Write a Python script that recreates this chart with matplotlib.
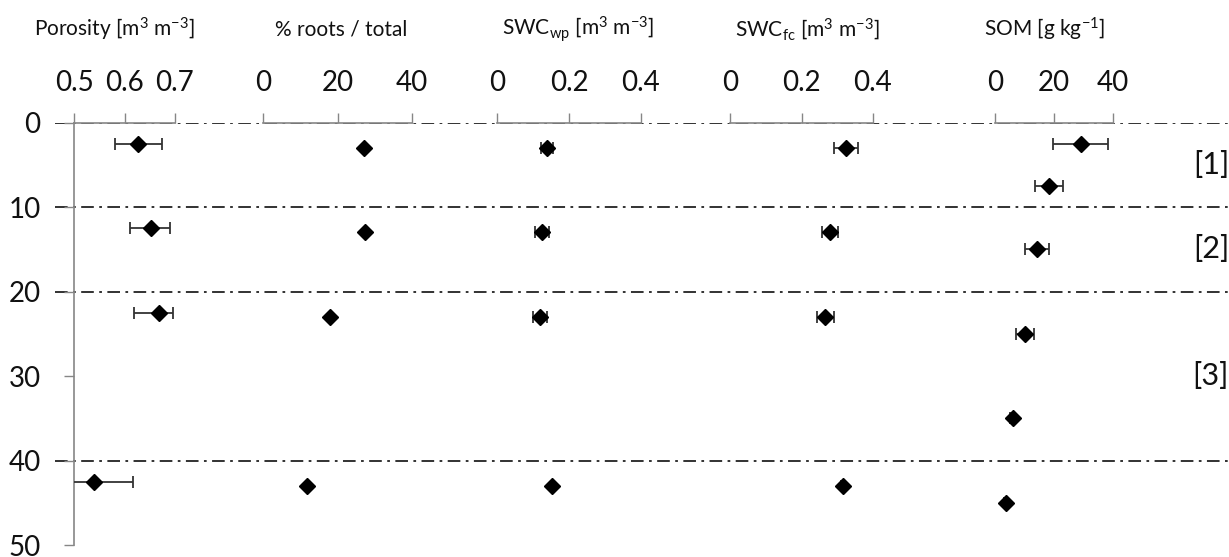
import matplotlib.pyplot as plt
from matplotlib.transforms import blended_transform_factory

plt.rcParams['font.family'] = ['Lato', 'DejaVu Sans']
plt.rcParams['mathtext.fontset'] = 'custom'
plt.rcParams['mathtext.rm'] = 'Lato'
plt.rcParams['mathtext.it'] = 'Lato:italic'

# depth of measurements [cm]
porosity_depth = [2.5, 12.5, 22.5, 42.5]
porosity = [0.627, 0.652, 0.668, 0.540]
porosity_err_lo = [0.046, 0.041, 0.049, 0.077]
porosity_err_hi = [0.047, 0.038, 0.028, 0.077]

profile_depth = [3, 13, 23, 43]
roots = [27.2, 27.5, 18.0, 11.7]
swc_wp = [0.139, 0.125, 0.119, 0.153]
swc_wp_err = [0.017, 0.02, 0.02, 0.004]
swc_fc = [0.325, 0.280, 0.267, 0.315]
swc_fc_err = [0.034, 0.023, 0.025, 0.004]

som_depth = [2.5, 7.5, 15, 25, 35, 45]
som = [29.0, 18.3, 14.2, 10.2, 6.0, 3.7]
som_err = [9.4, 4.9, 4.1, 3.1, 0.8, 0.8]

horizon_bounds = [0, 10, 20, 40]
horizon_labels = ['[1]', '[2]', '[3]']
horizon_label_depth = [5, 15, 30]

titles = ['Porosity [m$^3$ m$^{-3}$]', '% roots / total',
          'SWC$_{\\mathrm{wp}}$ [m$^3$ m$^{-3}$]',
          'SWC$_{\\mathrm{fc}}$ [m$^3$ m$^{-3}$]', 'SOM [g kg$^{-1}$]']
xticks = [[0.5, 0.6, 0.7], [0, 20, 40], [0, 0.2, 0.4], [0, 0.2, 0.4], [0, 20, 40]]
xticklabels = [['0.5', '0.6', '0.7'], ['0', '20', '40'], ['0', '0.2', '0.4'],
               ['0', '0.2', '0.4'], ['0', '20', '40']]

W, H = 1229, 557
fig = plt.figure(figsize=(W / 100, H / 100), dpi=100)

top_px, bot_px = 122.7, 545
y0 = 1 - bot_px / H
hgt = (bot_px - top_px) / H

# panel horizontal extents in pixels
panel_px = [(74, 175), (263, 412), (497, 641), (730, 873), (995, 1113)]
title_center_px = [114, 341, 578, 807, 1045]

# background frame for horizon boundaries
frame = fig.add_axes([55 / W, y0, 1 - 55 / W, hgt])
frame.set_ylim(50, 0)
frame.set_xlim(0, 1)
frame.axis('off')
for b in horizon_bounds:
    frame.axhline(b, color='#222222', lw=1.3, linestyle=(0, (7, 3, 1.5, 3)), zorder=1)
tr = blended_transform_factory(frame.transAxes, frame.transData)
for lab, d in zip(horizon_labels, horizon_label_depth):
    frame.text(1.0, d, lab, transform=tr, ha='right', va='center', fontsize=22, color='#111111')

txt = '#111111'
axes = []
for i, (x0, x1) in enumerate(panel_px):
    ax = fig.add_axes([x0 / W, y0, (x1 - x0) / W, hgt])
    ax.patch.set_visible(False)
    ax.set_xlim(xticks[i][0], xticks[i][-1])
    ax.set_ylim(50, 0)
    ax.xaxis.tick_top()
    ax.set_xticks(xticks[i])
    ax.set_xticklabels(xticklabels[i])
    ax.tick_params(axis='x', direction='out', length=7, width=1, color='#868686',
                   labelsize=20, labelcolor=txt, pad=12)
    for s in ['bottom', 'right', 'left']:
        ax.spines[s].set_visible(False)
    ax.spines['top'].set_color('#868686')
    ax.spines['top'].set_linewidth(1.2)
    fig.text(title_center_px[i] / W, 1 - 29 / H, titles[i], fontsize=15, color=txt,
             ha='center', va='center')
    if i == 0:
        ax.spines['left'].set_visible(True)
        ax.spines['left'].set_color('#868686')
        ax.spines['left'].set_linewidth(1.2)
        ax.set_yticks(range(0, 51, 10))
        ax.tick_params(axis='y', direction='out', length=7, width=1, color='#868686',
                       labelsize=20, labelcolor=txt, pad=17)
    else:
        ax.set_yticks([])
    axes.append(ax)

ekw = dict(fmt='D', color='black', ms=8.5, ecolor='#333333', elinewidth=1.3,
           capsize=4.3, capthick=1.3, zorder=5)
axes[0].errorbar(porosity, porosity_depth, xerr=[porosity_err_lo, porosity_err_hi], **ekw)
axes[1].plot(roots, profile_depth, 'D', color='black', ms=8.5, zorder=5, clip_on=False)
axes[2].errorbar(swc_wp, profile_depth, xerr=swc_wp_err, **ekw)
axes[3].errorbar(swc_fc, profile_depth, xerr=swc_fc_err, **ekw)
axes[4].errorbar(som, som_depth, xerr=som_err, **ekw)

fig.savefig('out.png', dpi=100)
